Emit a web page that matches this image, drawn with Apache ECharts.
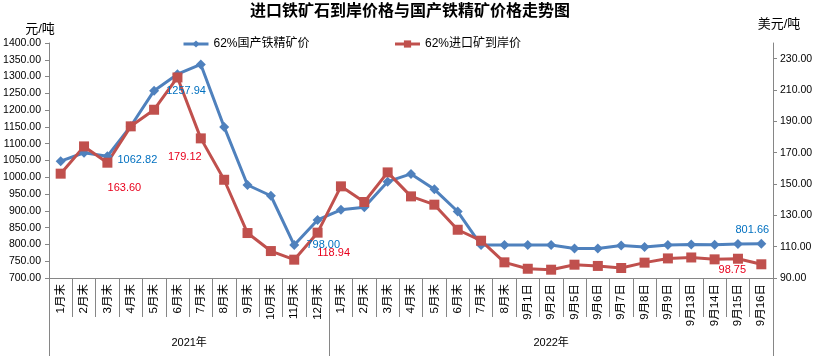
<!DOCTYPE html>
<html><head><meta charset="utf-8">
<script src="https://cdn.jsdelivr.net/npm/echarts@6/dist/echarts.min.js"></script>
<style>html,body{margin:0;padding:0;background:#fff}#c{width:820px;height:356px}</style>
</head><body><div id="c"></div>
<script>
// ---- data ----
const categories2021 = ['1月末','2月末','3月末','4月末','5月末','6月末','7月末','8月末','9月末','10月末','11月末','12月末'];
const categories2022 = ['1月末','2月末','3月末','4月末','5月末','6月末','7月末','8月末','9月1日','9月2日','9月5日','9月6日','9月7日','9月8日','9月9日','9月13日','9月14日','9月15日','9月16日'];
const yearLabels = ['2021年','2022年'];
const seriesNames = ['62%国产铁精矿价','62%进口矿到岸价'];
// 元/吨 (left axis)
const domesticPrice = [1048,1073,1062.82,1152,1257.94,1307,1336,1150,977,945,798.00,873,
  903,911,987,1010,964,898,798,798,798,798,788,788,797,792,798,800,799,801,801.66];
// 美元/吨 (right axis)
const importPrice = [156.6,174,163.60,186.8,197.4,218,179.12,152.7,118.7,107.2,101.7,118.94,
  148.5,138.5,157.4,142.1,136.8,120.8,113.8,100,95.9,95.3,98.5,97.7,96.4,99.8,102.5,103.1,101.9,102.3,98.75];
const leftTicks = [700,750,800,850,900,950,1000,1050,1100,1150,1200,1250,1300,1350,1400];
const rightTicks = [90,110,130,150,170,190,210,230];
const leftUnit = '元/吨';
const rightUnit = '美元/吨';
const titleText = '进口铁矿石到岸价格与国产铁精矿价格走势图';
// which points carry a value label
const domesticLabelIdx = [2,4,10,30];
const importLabelIdx = [2,6,11,30];

// ---- styles ----
const FONT = "'Liberation Sans','Noto Sans CJK SC',sans-serif";
const BLUE = '#4F81BD', RED = '#C0504D';
const BLUE_TXT = '#0070C0', RED_TXT = '#E8001C';
const AXIS = '#868686';
const domesticLabelOffset = {2:[30,4],4:[32,0],10:[29,0],30:[-9,-14]};
const importLabelOffset = {2:[17,25],6:[-16,19],11:[16,20],30:[-29,6]};

const categories = categories2021.concat(categories2022);
const yearSpans = [categories2021.length, categories2022.length];
const yearBounds = [0, yearSpans[0], yearSpans[0] + yearSpans[1]];
const yearCenters = [yearSpans[0] / 2, yearSpans[0] + yearSpans[1] / 2];

function buildData(values, idxs, offsets, color) {
  return values.map((v, i) => idxs.indexOf(i) >= 0 ? {
    value: v,
    label: {show: true, position: 'inside', offset: offsets[i], color: color,
      fontSize: 11, fontFamily: FONT, textBorderWidth: 0,
      formatter: p => Number(p.value).toFixed(2)}
  } : v);
}

const chart = echarts.init(document.getElementById('c'), null, {renderer: 'canvas'});
chart.setOption({
  animation: false,
  backgroundColor: '#fff',
  title: {text: titleText, left: 'center', top: 0, padding: [2, 0, 0, 6],
    textStyle: {fontFamily: "'Noto Sans CJK SC',sans-serif", fontWeight: 'bold', fontSize: 16, color: '#000'}},
  legend: {left: 177, top: 33, itemWidth: 25, itemHeight: 9, itemGap: 84,
    lineStyle: {width: 3},
    textStyle: {fontFamily: FONT, fontSize: 12, color: '#000'},
    data: seriesNames},
  grid: {left: 49, right: 47, top: 43, bottom: 78},
  xAxis: [{
    type: 'category', data: categories, boundaryGap: true,
    axisLine: {lineStyle: {color: AXIS, width: 1}},
    axisTick: {show: true, interval: 0, length: 39, lineStyle: {color: AXIS}},
    axisLabel: {interval: 0, rotate: 90, margin: 6, fontSize: 11.5, fontFamily: FONT, color: '#000'},
    splitLine: {show: false}
  }, {
    type: 'value', position: 'bottom', min: yearBounds[0], max: yearBounds[2],
    axisLine: {show: false},
    axisTick: {show: true, customValues: yearBounds, length: 78, lineStyle: {color: AXIS}},
    axisLabel: {show: true, customValues: yearCenters, margin: 59, fontSize: 11, fontFamily: FONT, color: '#000',
      formatter: v => yearLabels[yearCenters.indexOf(v)] || ''},
    splitLine: {show: false}
  }],
  yAxis: [{
    type: 'value', position: 'left', min: leftTicks[0], max: leftTicks[leftTicks.length - 1], interval: 50,
    name: leftUnit, nameGap: 7,
    nameTextStyle: {fontFamily: FONT, fontSize: 13, color: '#000', align: 'center', padding: [0, 18, 0, 0]},
    axisLine: {show: true, lineStyle: {color: AXIS}},
    axisTick: {show: true, inside: false, length: 4, lineStyle: {color: AXIS}},
    axisLabel: {margin: 8, fontSize: 10.5, fontFamily: FONT, color: '#000', formatter: v => v.toFixed(2)},
    splitLine: {show: false}
  }, {
    type: 'value', position: 'right', min: rightTicks[0], max: 240, interval: 20,
    name: rightUnit, nameGap: 12,
    nameTextStyle: {fontFamily: FONT, fontSize: 13, color: '#000', align: 'center', padding: [0, 0, 0, 12]},
    axisLine: {show: true, lineStyle: {color: AXIS}},
    axisTick: {show: true, inside: false, length: 4, customValues: rightTicks, lineStyle: {color: AXIS}},
    axisLabel: {margin: 7, fontSize: 10.5, fontFamily: FONT, color: '#000', customValues: rightTicks, formatter: v => v.toFixed(2)},
    splitLine: {show: false}
  }],
  series: [{
    name: seriesNames[0], type: 'line', xAxisIndex: 0, yAxisIndex: 0,
    data: buildData(domesticPrice, domesticLabelIdx, domesticLabelOffset, BLUE_TXT),
    symbol: 'diamond', symbolSize: 10, showAllSymbol: true,
    lineStyle: {color: BLUE, width: 3},
    itemStyle: {color: BLUE},
    emphasis: {disabled: true}
  }, {
    name: seriesNames[1], type: 'line', xAxisIndex: 0, yAxisIndex: 1,
    data: buildData(importPrice, importLabelIdx, importLabelOffset, RED_TXT),
    symbol: 'rect', symbolSize: 10, showAllSymbol: true,
    lineStyle: {color: RED, width: 3},
    itemStyle: {color: RED},
    emphasis: {disabled: true}
  }]
});
</script></body></html>
